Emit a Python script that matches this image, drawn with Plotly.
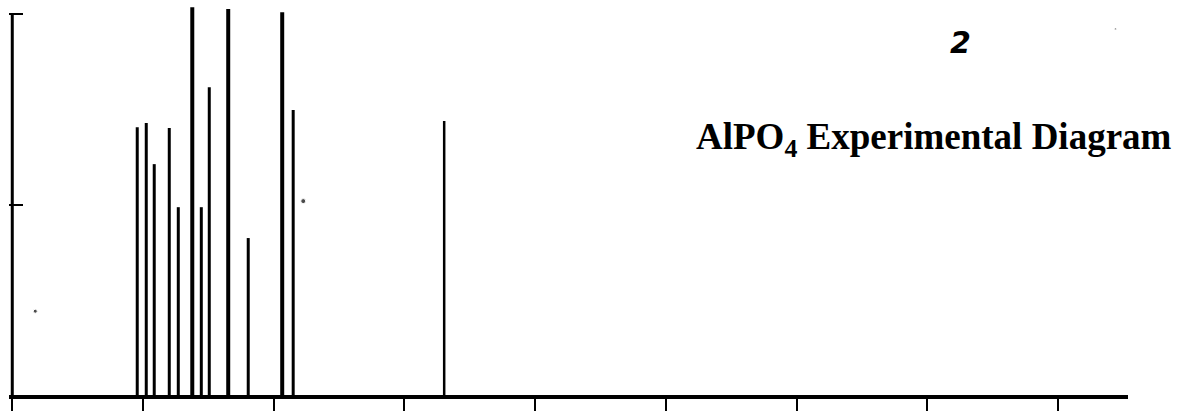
import plotly.graph_objects as go

# ---- data ----
peak_pos = [9.56, 10.25, 10.86, 12.01, 12.70, 13.77, 14.46, 15.07, 16.52, 18.05, 20.65, 21.49, 33.04]
peak_int = [70.3, 71.4, 60.6, 70.1, 49.3, 101.8, 49.3, 80.8, 101.3, 41.2, 100.5, 74.8, 71.9]
x_ticks = [0, 10, 20, 30, 40, 50, 60, 70, 80]
y_ticks = [50, 100]
speck_x = [22.26, 1.76, 84.4]
speck_y = [50.9, 22.0, 96.1]
title_text = "<b>AlPO<sub>4</sub> Experimental Diagram</b>"
panel_label = "<b><i>2</i></b>"

# ---- styles ----
peak_widths = [3, 3, 3, 3, 3, 4, 3, 3, 4, 3, 4, 3, 2.5]
X0, X1 = -0.25, 85.35
Y0, Y1 = 0, 102.9

fig = go.Figure()
for xp, h, w in zip(peak_pos, peak_int, peak_widths):
    fig.add_trace(go.Scatter(x=[xp, xp], y=[0, h], mode="lines",
                             line=dict(color="black", width=w),
                             showlegend=False, hoverinfo="skip"))

fig.add_trace(go.Scatter(x=speck_x, y=speck_y, mode="markers",
                         marker=dict(color="black", size=[5, 4, 2]),
                         showlegend=False, hoverinfo="skip"))

# y spine (stops at the top bracket)
fig.add_shape(type="line", xref="x", yref="y", x0=0, x1=0, y0=0, y1=y_ticks[-1],
              line=dict(color="black", width=3), layer="above")

fig.add_annotation(x=70.5, y=67.2, xref="x", yref="y", text=title_text, showarrow=False,
                   font=dict(family="Liberation Serif", size=37, color="black"))
fig.add_annotation(x=72.5, y=92.6, xref="x", yref="y", text=panel_label, showarrow=False,
                   font=dict(family="DejaVu Sans", size=30, color="black"))

fig.update_layout(
    width=1196, height=412,
    margin=dict(l=9, r=68, t=3, b=17),
    paper_bgcolor="white", plot_bgcolor="white",
    xaxis=dict(range=[X0, X1], showline=True, linecolor="black", linewidth=3.5,
               ticks="outside", tickvals=x_ticks, ticklen=12, tickwidth=2, tickcolor="black",
               showticklabels=False, showgrid=False, zeroline=False),
    yaxis=dict(range=[Y0, Y1], showline=False,
               ticks="inside", tickvals=y_ticks, ticklen=14, tickwidth=2, tickcolor="black",
               showticklabels=False, showgrid=False, zeroline=False),
)

fig.write_html("out.html", config={"displayModeBar": False},
               post_script="document.body.style.margin='0';document.body.style.overflow='hidden';")
